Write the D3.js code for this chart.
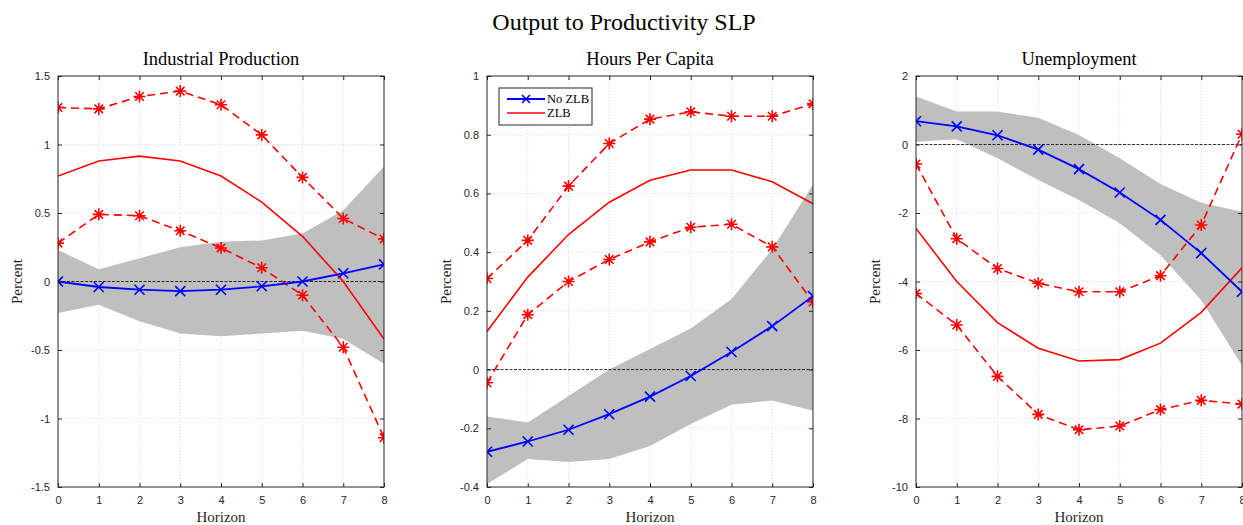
<!DOCTYPE html>
<html>
<head>
<meta charset="utf-8">
<script src="https://cdn.jsdelivr.net/npm/d3@7"></script>
<style>
  body { margin: 0; background: #fff; }
  svg text { fill: #262626; }
  .ttl { font-family: "Liberation Serif", "DejaVu Serif", serif; }
  .tick text { font-family: "Liberation Sans", Arial, sans-serif; font-size: 11px; }
</style>
</head>
<body>
<div data-output></div>
<script>
const SIZE = { WIDTH: 1243, HEIGHT: 525 };
const horizon = [0, 1, 2, 3, 4, 5, 6, 7, 8];

// Industrial Production
const ipNoZlb = [0, -0.04, -0.06, -0.07, -0.06, -0.035, 0.0, 0.06, 0.125];
const ipBandHi = [0.23, 0.09, 0.17, 0.25, 0.29, 0.30, 0.35, 0.52, 0.84];
const ipBandLo = [-0.23, -0.17, -0.29, -0.38, -0.40, -0.38, -0.36, -0.42, -0.60];
const ipZlb = [0.77, 0.88, 0.915, 0.88, 0.77, 0.58, 0.33, 0.0, -0.42];
const ipZlbHi = [1.27, 1.26, 1.35, 1.39, 1.29, 1.07, 0.76, 0.46, 0.31];
const ipZlbLo = [0.28, 0.49, 0.48, 0.37, 0.245, 0.10, -0.10, -0.48, -1.14];
const ipTicks = [-1.5, -1, -0.5, 0, 0.5, 1, 1.5];

// Hours Per Capita
const hpNoZlb = [-0.28, -0.245, -0.205, -0.152, -0.092, -0.022, 0.06, 0.148, 0.25];
const hpBandHi = [-0.16, -0.18, -0.09, 0.0, 0.07, 0.14, 0.24, 0.41, 0.63];
const hpBandLo = [-0.39, -0.305, -0.315, -0.305, -0.26, -0.185, -0.12, -0.105, -0.14];
const hpZlb = [0.13, 0.315, 0.46, 0.57, 0.645, 0.68, 0.68, 0.64, 0.565];
const hpZlbHi = [0.31, 0.44, 0.625, 0.77, 0.853, 0.878, 0.863, 0.863, 0.905];
const hpZlbLo = [-0.045, 0.187, 0.30, 0.375, 0.435, 0.485, 0.495, 0.418, 0.23];
const hpTicks = [-0.4, -0.2, 0, 0.2, 0.4, 0.6, 0.8, 1];

// Unemployment
const unNoZlb = [0.68, 0.53, 0.27, -0.15, -0.72, -1.4, -2.2, -3.17, -4.3];
const unBandHi = [1.4, 0.96, 0.96, 0.78, 0.28, -0.4, -1.15, -1.7, -1.96];
const unBandLo = [0.08, 0.15, -0.4, -1.04, -1.62, -2.3, -3.23, -4.55, -6.45];
const unZlb = [-2.45, -4.0, -5.2, -5.95, -6.32, -6.28, -5.8, -4.9, -3.6];
const unZlbHi = [-0.57, -2.75, -3.62, -4.05, -4.3, -4.3, -3.83, -2.35, 0.3];
const unZlbLo = [-4.35, -5.27, -6.77, -7.88, -8.33, -8.22, -7.74, -7.47, -7.58];
const unTicks = [-10, -8, -6, -4, -2, 0, 2];

const panels = [
  { title: 'Industrial Production', left: 58, domain: [-1.5, 1.5], ticks: ipTicks,
    noZlb: ipNoZlb, hi: ipBandHi, lo: ipBandLo, zlb: ipZlb, zhi: ipZlbHi, zlo: ipZlbLo },
  { title: 'Hours Per Capita', left: 487, domain: [-0.4, 1], ticks: hpTicks, legend: true,
    noZlb: hpNoZlb, hi: hpBandHi, lo: hpBandLo, zlb: hpZlb, zhi: hpZlbHi, zlo: hpZlbLo },
  { title: 'Unemployment', left: 916, domain: [-10, 2], ticks: unTicks,
    noZlb: unNoZlb, hi: unBandHi, lo: unBandLo, zlb: unZlb, zhi: unZlbHi, zlo: unZlbLo }
];

const PW = 326, TOP = 76, BOTTOM = 487;

const svg = d3.select('[data-output]').append('svg')
  .attr('width', SIZE.WIDTH)
  .attr('height', SIZE.HEIGHT);

svg.append('text')
  .attr('class', 'ttl')
  .attr('x', 624).attr('y', 30)
  .attr('text-anchor', 'middle')
  .attr('font-size', 24)
  .style('fill', '#000')
  .text('Output to Productivity SLP');

const starPath = (s) => {
  let d = '';
  for (let a = 0; a < 4; a++) {
    const t = a * Math.PI / 4;
    d += `M${-s * Math.cos(t)},${-s * Math.sin(t)}L${s * Math.cos(t)},${s * Math.sin(t)}`;
  }
  return d;
};
const crossPath = (s) => `M${-s},${-s}L${s},${s}M${-s},${s}L${s},${-s}`;

panels.forEach(p => {
  const x = d3.scaleLinear().domain([0, 8]).range([0, PW]);
  const y = d3.scaleLinear().domain(p.domain).range([BOTTOM - TOP, 0]);
  const h = BOTTOM - TOP;

  const g = svg.append('g').attr('transform', `translate(${p.left}, ${TOP})`);

  // grid
  g.append('g').selectAll('line').data(horizon.slice(1, -1)).join('line')
    .attr('x1', d => x(d)).attr('x2', d => x(d)).attr('y1', 0).attr('y2', h)
    .attr('stroke', '#cfcfcf').attr('stroke-width', 0.8).attr('stroke-dasharray', '1,2');
  g.append('g').selectAll('line').data(p.ticks.slice(1, -1)).join('line')
    .attr('x1', 0).attr('x2', PW).attr('y1', d => y(d)).attr('y2', d => y(d))
    .attr('stroke', '#cfcfcf').attr('stroke-width', 0.8).attr('stroke-dasharray', '1,2');

  const data = horizon.map((hz, i) => ({ x: hz, n: p.noZlb[i], hi: p.hi[i], lo: p.lo[i],
    z: p.zlb[i], zh: p.zhi[i], zl: p.zlo[i] }));

  const clipId = 'clip' + p.left;
  g.append('clipPath').attr('id', clipId).append('rect')
    .attr('x', 0).attr('y', 0).attr('width', PW).attr('height', h);
  const plot = g.append('g').attr('clip-path', `url(#${clipId})`);

  // band
  plot.append('path').datum(data)
    .attr('fill', '#bfbfbf')
    .attr('d', d3.area().x(d => x(d.x)).y0(d => y(d.lo)).y1(d => y(d.hi)));

  // zero line
  plot.append('line')
    .attr('x1', 0).attr('x2', PW).attr('y1', y(0)).attr('y2', y(0))
    .attr('stroke', '#000').attr('stroke-width', 0.8).attr('stroke-dasharray', '3,1.5');

  const line = key => d3.line().x(d => x(d.x)).y(d => y(d[key]));

  plot.append('path').datum(data).attr('fill', 'none')
    .attr('stroke', '#ff0000').attr('stroke-width', 1.6).attr('d', line('z'));
  ['zh', 'zl'].forEach(k => {
    plot.append('path').datum(data).attr('fill', 'none')
      .attr('stroke', '#ff0000').attr('stroke-width', 1.6)
      .attr('stroke-dasharray', '8,5').attr('d', line(k));
    plot.append('g').selectAll('path').data(data).join('path')
      .attr('transform', d => `translate(${x(d.x)}, ${y(d[k])})`)
      .attr('d', starPath(6))
      .attr('stroke', '#ff0000').attr('stroke-width', 1.6);
  });

  plot.append('path').datum(data).attr('fill', 'none')
    .attr('stroke', '#0000ff').attr('stroke-width', 1.8).attr('d', line('n'));
  plot.append('g').selectAll('path').data(data).join('path')
    .attr('transform', d => `translate(${x(d.x)}, ${y(d.n)})`)
    .attr('d', crossPath(5))
    .attr('stroke', '#0000ff').attr('stroke-width', 1.6);

  // axes (MATLAB-style box with inward ticks)
  const axCol = '#262626';
  const styleAxis = sel => {
    sel.select('.domain').remove();
    sel.selectAll('.tick line').attr('stroke', axCol);
  };
  g.append('g').attr('transform', `translate(0, ${h})`)
    .call(d3.axisBottom(x).tickValues(horizon).tickSize(-4).tickPadding(9).tickFormat(d3.format('d')))
    .call(styleAxis);
  g.append('g')
    .call(d3.axisTop(x).tickValues(horizon).tickSize(-4).tickFormat(''))
    .call(styleAxis);
  g.append('g')
    .call(d3.axisLeft(y).tickValues(p.ticks).tickSize(-4).tickPadding(8).tickFormat(d => String(d)))
    .call(styleAxis);
  g.append('g').attr('transform', `translate(${PW}, 0)`)
    .call(d3.axisRight(y).tickValues(p.ticks).tickSize(-4).tickFormat(''))
    .call(styleAxis);
  g.selectAll('.tick text').style('fill', axCol);

  g.append('rect').attr('x', 0).attr('y', 0).attr('width', PW).attr('height', h)
    .attr('fill', 'none').attr('stroke', axCol).attr('stroke-width', 1);

  // labels
  g.append('text').attr('class', 'ttl')
    .attr('x', PW / 2).attr('y', -11).attr('text-anchor', 'middle')
    .attr('font-size', 18.5).style('fill', '#000').text(p.title);
  g.append('text').attr('class', 'ttl')
    .attr('x', PW / 2).attr('y', h + 35).attr('text-anchor', 'middle')
    .attr('font-size', 15).text('Horizon');
  g.append('text').attr('class', 'ttl')
    .attr('transform', `translate(-36, ${h / 2}) rotate(-90)`)
    .attr('text-anchor', 'middle')
    .attr('font-size', 15).text('Percent');

  if (p.legend) {
    const lg = g.append('g').attr('transform', 'translate(12, 12)');
    lg.append('rect').attr('width', 93).attr('height', 37)
      .attr('fill', '#fff').attr('stroke', axCol).attr('stroke-width', 1);
    lg.append('line').attr('x1', 8).attr('x2', 46).attr('y1', 11).attr('y2', 11)
      .attr('stroke', '#0000ff').attr('stroke-width', 1.8);
    lg.append('path').attr('transform', 'translate(27, 11)').attr('d', crossPath(4))
      .attr('stroke', '#0000ff').attr('stroke-width', 1.6);
    lg.append('line').attr('x1', 8).attr('x2', 46).attr('y1', 25).attr('y2', 25)
      .attr('stroke', '#ff0000').attr('stroke-width', 1.6);
    lg.append('text').attr('class', 'ttl').attr('x', 48).attr('y', 15)
      .attr('font-size', 12.5).style('fill', '#000').text('No ZLB');
    lg.append('text').attr('class', 'ttl').attr('x', 48).attr('y', 29)
      .attr('font-size', 12.5).style('fill', '#000').text('ZLB');
  }
});
</script>
</body>
</html>
